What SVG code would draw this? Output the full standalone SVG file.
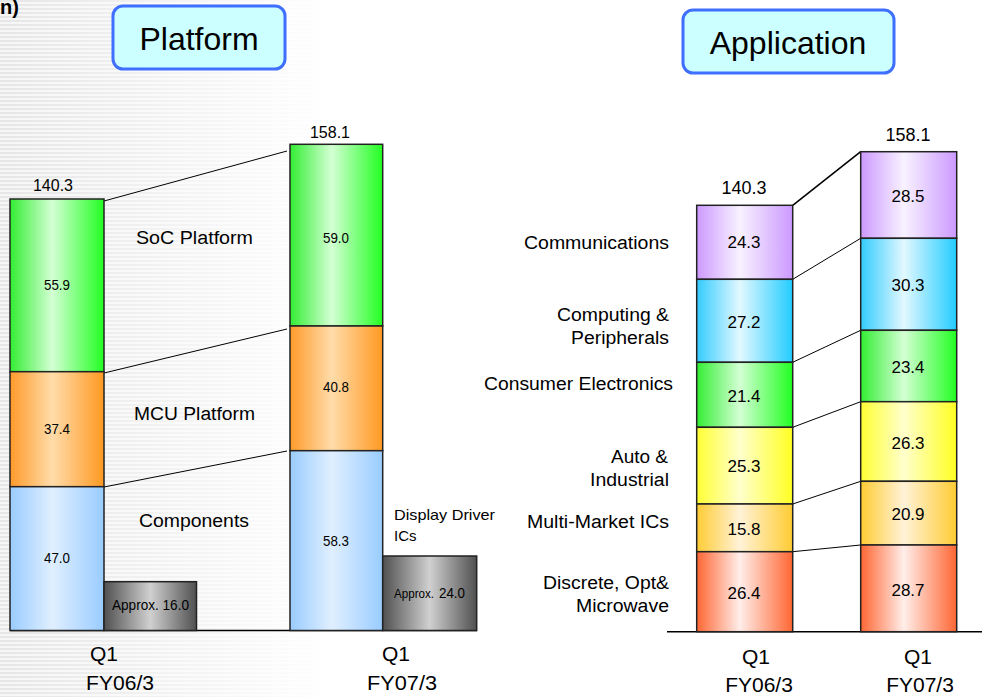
<svg xmlns="http://www.w3.org/2000/svg" width="982" height="697" viewBox="0 0 982 697">
<defs>
<pattern id="stripes" width="4" height="4" patternUnits="userSpaceOnUse"><rect width="4" height="2" fill="#e6e6e6"/><rect y="2" width="4" height="2" fill="#f6f6f6"/></pattern>
<linearGradient id="fade" x1="0" x2="1" y1="0" y2="0"><stop offset="0" stop-color="#fff" stop-opacity="0"/><stop offset="1" stop-color="#fff" stop-opacity="1"/></linearGradient>
<linearGradient id="gGreen" x1="0" x2="1"><stop offset="0" stop-color="#33ee33"/><stop offset="0.45" stop-color="#d4ffd4"/><stop offset="1" stop-color="#22ff22"/></linearGradient>
<linearGradient id="gOrange" x1="0" x2="1"><stop offset="0" stop-color="#ff9a2a"/><stop offset="0.45" stop-color="#ffdcaa"/><stop offset="1" stop-color="#ff9922"/></linearGradient>
<linearGradient id="gBlue" x1="0" x2="1"><stop offset="0" stop-color="#99ccff"/><stop offset="0.45" stop-color="#e0efff"/><stop offset="1" stop-color="#99ccff"/></linearGradient>
<linearGradient id="gGray" x1="0" x2="1"><stop offset="0" stop-color="#505050"/><stop offset="0.5" stop-color="#d0d0d0"/><stop offset="1" stop-color="#505050"/></linearGradient>
<linearGradient id="gPurple" x1="0" x2="1"><stop offset="0" stop-color="#cc99ff"/><stop offset="0.45" stop-color="#f8f2ff"/><stop offset="1" stop-color="#cc99ff"/></linearGradient>
<linearGradient id="gCyan" x1="0" x2="1"><stop offset="0" stop-color="#33ccff"/><stop offset="0.45" stop-color="#e2f8ff"/><stop offset="1" stop-color="#22ccff"/></linearGradient>
<linearGradient id="gYellow" x1="0" x2="1"><stop offset="0" stop-color="#ffff33"/><stop offset="0.45" stop-color="#ffffcc"/><stop offset="1" stop-color="#ffff22"/></linearGradient>
<linearGradient id="gGold" x1="0" x2="1"><stop offset="0" stop-color="#ffcc33"/><stop offset="0.45" stop-color="#fff2d8"/><stop offset="1" stop-color="#ffcc33"/></linearGradient>
<linearGradient id="gRed" x1="0" x2="1"><stop offset="0" stop-color="#ff6633"/><stop offset="0.45" stop-color="#ffeeea"/><stop offset="1" stop-color="#ff6633"/></linearGradient>
</defs>
<style>
text{font-family:"Liberation Sans",Arial,sans-serif;fill:#000}
.seg{stroke:#222;stroke-width:1.5}
.val{font-size:14px;text-anchor:middle}
.val2{font-size:17px;text-anchor:middle}
.tot{font-size:16px;text-anchor:middle}
.tot2{font-size:18px;text-anchor:middle}
.lab{font-size:18px}
.r{text-anchor:end}
.ax{font-size:21px;text-anchor:middle}
.axs{font-size:21px}
.conn line{stroke:#000;stroke-width:1}
.btn{fill:#ccffff;stroke:#3f6fff;stroke-width:3}
.appr{font-size:15px;font-family:"Liberation Sans Narrow","Liberation Sans",sans-serif}
</style>
<rect width="982" height="697" fill="#fff"/>
<rect width="330" height="697" fill="url(#stripes)"/>
<rect width="332" height="697" fill="url(#fade)"/>
<text x="0" y="14" style="font-size:20px;font-weight:bold">n)</text>

<g id="platform-title"><rect class="btn" x="113" y="6" width="172" height="63" rx="10"/><text x="199" y="50" style="font-size:32px;text-anchor:middle">Platform</text></g>
<g id="application-title"><rect class="btn" x="683" y="10" width="211" height="63" rx="10"/><text x="788" y="54" style="font-size:32px;text-anchor:middle">Application</text></g>

<g id="axes"><line x1="10" y1="630.5" x2="477" y2="630.5" stroke="#000" stroke-width="1.5"/><line x1="667" y1="631.7" x2="982" y2="631.7" stroke="#000" stroke-width="1.5"/></g>

<g class="conn" id="connectors">
<line x1="104" y1="201" x2="287" y2="151"/>
<line x1="104" y1="373" x2="287" y2="329"/>
<line x1="104" y1="487" x2="287" y2="451"/>
<line x1="792.7" y1="205.3" x2="860.7" y2="151.7" style="stroke-width:1.6"/>
<line x1="792.7" y1="279.3" x2="860.7" y2="238.3"/>
<line x1="792.7" y1="362.3" x2="860.7" y2="330.3"/>
<line x1="792.7" y1="427.3" x2="860.7" y2="401.7"/>
<line x1="792.7" y1="504" x2="860.7" y2="481.3"/>
<line x1="792.7" y1="551.7" x2="860.7" y2="545"/>
</g>

<g id="p1-soc"><rect class="seg" x="10" y="199" width="94" height="172.7" fill="url(#gGreen)"/><text class="val" x="57" y="290" textLength="26" lengthAdjust="spacingAndGlyphs">55.9</text></g>
<g id="p1-mcu"><rect class="seg" x="10" y="371.7" width="94" height="115" fill="url(#gOrange)"/><text class="val" x="57" y="434" textLength="26" lengthAdjust="spacingAndGlyphs">37.4</text></g>
<g id="p1-comp"><rect class="seg" x="10" y="486.7" width="94" height="143.8" fill="url(#gBlue)"/><text class="val" x="57" y="563" textLength="26" lengthAdjust="spacingAndGlyphs">47.0</text></g>
<g id="p1-ddi"><rect class="seg" x="104" y="581.7" width="92.5" height="48.8" fill="url(#gGray)"/><text class="appr" x="112" y="610" textLength="77" lengthAdjust="spacingAndGlyphs">Approx. 16.0</text></g>
<text class="tot" x="53" y="191">140.3</text>

<g id="p2-soc"><rect class="seg" x="290" y="144.3" width="92.7" height="181.7" fill="url(#gGreen)"/><text class="val" x="336" y="243" textLength="26" lengthAdjust="spacingAndGlyphs">59.0</text></g>
<g id="p2-mcu"><rect class="seg" x="290" y="326" width="92.7" height="124.7" fill="url(#gOrange)"/><text class="val" x="336" y="392" textLength="26" lengthAdjust="spacingAndGlyphs">40.8</text></g>
<g id="p2-comp"><rect class="seg" x="290" y="450.7" width="92.7" height="179.8" fill="url(#gBlue)"/><text class="val" x="336" y="546" textLength="26" lengthAdjust="spacingAndGlyphs">58.3</text></g>
<g id="p2-ddi"><rect class="seg" x="382.7" y="556" width="94" height="74.5" fill="url(#gGray)"/><text class="appr" x="394" y="598"><tspan style="font-size:13px" textLength="40" lengthAdjust="spacingAndGlyphs">Approx.</tspan><tspan x="439" textLength="26" lengthAdjust="spacingAndGlyphs">24.0</tspan></text></g>
<text class="tot" x="330" y="138">158.1</text>

<text class="lab" x="136" y="244" textLength="117" lengthAdjust="spacingAndGlyphs">SoC Platform</text>
<text class="lab" x="134" y="420" textLength="121" lengthAdjust="spacingAndGlyphs">MCU Platform</text>
<text class="lab" x="139" y="527" textLength="110" lengthAdjust="spacingAndGlyphs">Components</text>
<text x="394" y="520" style="font-size:15px" textLength="101" lengthAdjust="spacingAndGlyphs">Display Driver</text>
<text x="394" y="541" style="font-size:15px">ICs</text>
<text class="ax" x="104" y="661">Q1</text>
<text class="axs" x="86" y="690" textLength="68" lengthAdjust="spacingAndGlyphs">FY06/3</text>
<text class="ax" x="396" y="661">Q1</text>
<text class="axs" x="367" y="690" textLength="70" lengthAdjust="spacingAndGlyphs">FY07/3</text>

<g id="a1-comm"><rect class="seg" x="696.7" y="205.3" width="96" height="74" fill="url(#gPurple)"/><text class="val2" x="744" y="248">24.3</text></g>
<g id="a1-comp"><rect class="seg" x="696.7" y="279.3" width="96" height="83" fill="url(#gCyan)"/><text class="val2" x="744" y="328">27.2</text></g>
<g id="a1-cons"><rect class="seg" x="696.7" y="362.3" width="96" height="65" fill="url(#gGreen)"/><text class="val2" x="744" y="402">21.4</text></g>
<g id="a1-auto"><rect class="seg" x="696.7" y="427.3" width="96" height="76.7" fill="url(#gYellow)"/><text class="val2" x="744" y="472">25.3</text></g>
<g id="a1-mm"><rect class="seg" x="696.7" y="504" width="96" height="47.7" fill="url(#gGold)"/><text class="val2" x="744" y="535">15.8</text></g>
<g id="a1-disc"><rect class="seg" x="696.7" y="551.7" width="96" height="80" fill="url(#gRed)"/><text class="val2" x="744" y="599">26.4</text></g>
<text class="tot2" x="744" y="194">140.3</text>

<g id="a2-comm"><rect class="seg" x="860.7" y="151.7" width="96" height="86.6" fill="url(#gPurple)"/><text class="val2" x="908" y="202">28.5</text></g>
<g id="a2-comp"><rect class="seg" x="860.7" y="238.3" width="96" height="92" fill="url(#gCyan)"/><text class="val2" x="908" y="291">30.3</text></g>
<g id="a2-cons"><rect class="seg" x="860.7" y="330.3" width="96" height="71.4" fill="url(#gGreen)"/><text class="val2" x="908" y="373">23.4</text></g>
<g id="a2-auto"><rect class="seg" x="860.7" y="401.7" width="96" height="79.6" fill="url(#gYellow)"/><text class="val2" x="908" y="449">26.3</text></g>
<g id="a2-mm"><rect class="seg" x="860.7" y="481.3" width="96" height="63.7" fill="url(#gGold)"/><text class="val2" x="908" y="520">20.9</text></g>
<g id="a2-disc"><rect class="seg" x="860.7" y="545" width="96" height="86.7" fill="url(#gRed)"/><text class="val2" x="908" y="596">28.7</text></g>
<text class="tot2" x="908" y="141">158.1</text>

<text class="lab r" x="669" y="248.5" textLength="145" lengthAdjust="spacingAndGlyphs">Communications</text>
<text class="lab r" x="669" y="320.5" textLength="112" lengthAdjust="spacingAndGlyphs">Computing &amp;</text>
<text class="lab r" x="669" y="343.5" textLength="98" lengthAdjust="spacingAndGlyphs">Peripherals</text>
<text class="lab r" x="673" y="389.5" textLength="189" lengthAdjust="spacingAndGlyphs">Consumer Electronics</text>
<text class="lab r" x="668" y="462.5" textLength="57" lengthAdjust="spacingAndGlyphs">Auto &amp;</text>
<text class="lab r" x="669" y="485.5" textLength="79" lengthAdjust="spacingAndGlyphs">Industrial</text>
<text class="lab r" x="669" y="527.5" textLength="142" lengthAdjust="spacingAndGlyphs">Multi-Market ICs</text>
<text class="lab r" x="669" y="588.5" textLength="126" lengthAdjust="spacingAndGlyphs">Discrete, Opt&amp;</text>
<text class="lab r" x="669" y="611.5" textLength="93" lengthAdjust="spacingAndGlyphs">Microwave</text>
<text class="ax" x="756" y="664">Q1</text>
<text class="ax" x="759" y="692">FY06/3</text>
<text class="ax" x="918" y="664">Q1</text>
<text class="ax" x="920" y="692">FY07/3</text>
</svg>
